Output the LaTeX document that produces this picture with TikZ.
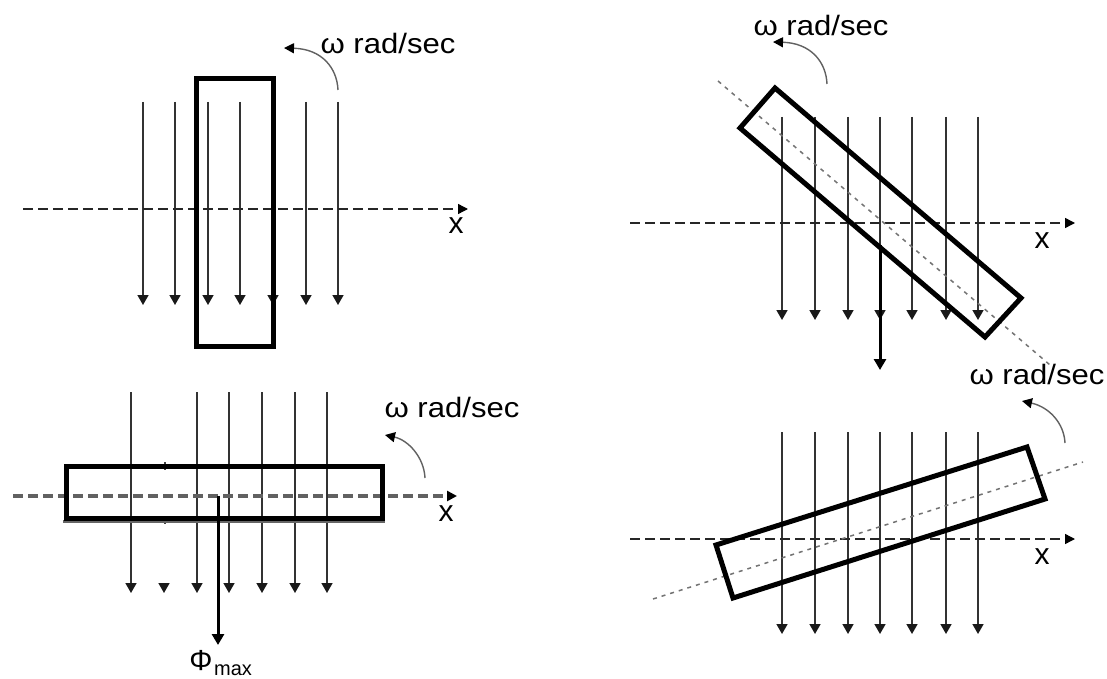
\documentclass[tikz,border=0pt]{standalone}
\usepackage{fontspec}
\setmainfont{Liberation Sans}
\usetikzlibrary{arrows.meta}
\newcommand{\omegalabel}{\scalebox{1.11}[1]{ω rad/sec}}
\tikzset{
  flux/.style={draw=black!80,line width=1.6pt,-{Triangle[length=10pt,width=11pt,color=black!90]}},
  fluxstub/.style={draw=black!75,line width=1.4pt},
  fluxmax/.style={draw=black,line width=3pt,-{Triangle[length=11pt,width=12pt,color=black]}},
  axisline/.style={draw=black!85,line width=1.4pt,dash pattern=on 10pt off 5pt,-{Triangle[length=10pt,width=10pt,color=black]}},
  axisthick/.style={draw=black!62,line width=3.2pt,dash pattern=on 10pt off 5pt,-{Triangle[length=10pt,width=10pt,color=black]}},
  coil/.style={draw=black,line width=5pt,line join=miter},
  coilshadow/.style={draw=black!60,line width=3pt},
  normalline/.style={draw=black!55,line width=1.5pt,dash pattern=on 4pt off 5pt},
  spin/.style={draw=black!62,line width=1.4pt,-{Triangle[length=10pt,width=10pt,color=black]}},
  lbl/.style={inner sep=0pt,font=\fontsize{28}{30}\selectfont},
  axlbl/.style={inner sep=0pt,font=\fontsize{30}{30}\selectfont}
}
\begin{document}
\begin{tikzpicture}[x=1pt,y=-1pt]
\useasboundingbox (0,0) rectangle (1107,679);
\fill[white] (0,0) rectangle (1107,679);
% ---- panel A
\foreach \n/\px in {1/143,2/175,3/208,4/240,5/273,6/306,7/338}{
  \coordinate (At\n) at (\px,102); \coordinate (Ab\n) at (\px,305);
  \draw[flux] (At\n) -- (Ab\n);
}
\coordinate (Aax0) at (23,209); \coordinate (Aax1) at (468,209);
\draw[axisline] (Aax0) -- (Aax1);
\draw[coil] (196,79) rectangle (273,346);
\node[axlbl] (Ax) at (456,226) {x};
\node[lbl] (Aw) at (388,43) {\omegalabel};
\coordinate (As0) at (338,90); \coordinate (As1) at (284,48);
\draw[spin] (As0) .. controls (337,68) and (322,49) .. (As1);
% ---- panel B
\foreach \n/\px in {1/131,3/197,4/229,5/262,6/295,7/327}{
  \coordinate (Bt\n) at (\px,392); \coordinate (Bb\n) at (\px,593);
  \draw[flux] (Bt\n) -- (Bb\n);
}
\coordinate (Bt2) at (165,462); \coordinate (Bu2) at (165,470);
\coordinate (Bs2) at (165,516); \coordinate (Bv2) at (165,524);
\coordinate (Bh0) at (164,583); \coordinate (Bh2) at (164,593);
\draw[fluxstub] (Bt2) -- (Bu2);
\draw[fluxstub] (Bs2) -- (Bv2);
\draw[flux] (Bh0) -- (Bh2);
\coordinate (Bax0) at (13,496); \coordinate (Bax1) at (457,496);
\draw[axisthick] (Bax0) -- (Bax1);
\coordinate (Bsh0) at (63,521.5); \coordinate (Bsh1) at (385,521.5);
\draw[coilshadow] (Bsh0) -- (Bsh1);
\draw[coil] (66,466.5) rectangle (382,518);
\coordinate (Bm0) at (218,496); \coordinate (Bm1) at (218,645);
\draw[fluxmax] (Bm0) -- (Bm1);
\node[axlbl] (Bx) at (446,514) {x};
\node[lbl] (Bw) at (452,407) {\omegalabel};
\node[inner sep=0pt,font=\fontsize{29}{30}\selectfont] (Bp) at (201,661) {Φ};
\node[inner sep=0pt,anchor=base west,font=\fontsize{20}{20}\selectfont] (Bmax) at (214,675) {max};
\coordinate (Bs0) at (425,478); \coordinate (Bs1) at (385,435);
\draw[spin] (Bs0) .. controls (424,457) and (408,440) .. (Bs1);
% ---- panel C
\foreach \n/\px in {1/782,2/815,3/848,4/880,5/912,6/946,7/978}{
  \coordinate (Ct\n) at (\px,117); \coordinate (Cb\n) at (\px,320);
  \draw[flux] (Ct\n) -- (Cb\n);
}
\coordinate (Cm0) at (880,245); \coordinate (Cm1) at (880,370);
\draw[fluxmax] (Cm0) -- (Cm1);
\coordinate (Cax0) at (630,223); \coordinate (Cax1) at (1075,223);
\draw[axisline] (Cax0) -- (Cax1);
\coordinate (Cn0) at (718,81); \coordinate (Cn1) at (1050,365);
\draw[normalline] (Cn0) -- (Cn1);
\draw[coil] (775,88) -- (740,128) -- (985,337) -- (1021,298) -- cycle;
\node[axlbl] (Cx) at (1042,241) {x};
\node[lbl] (Cw) at (821,25) {\omegalabel};
\coordinate (Cs0) at (827,84); \coordinate (Cs1) at (773,42);
\draw[spin] (Cs0) .. controls (826,61) and (810,43) .. (Cs1);
% ---- panel D
\foreach \n/\px in {1/782,2/815,3/848,4/880,5/912,6/946,7/978}{
  \coordinate (Dt\n) at (\px,432); \coordinate (Db\n) at (\px,634);
  \draw[flux] (Dt\n) -- (Db\n);
}
\coordinate (Dax0) at (630,539); \coordinate (Dax1) at (1075,539);
\draw[axisline] (Dax0) -- (Dax1);
\coordinate (Dn0) at (653,599); \coordinate (Dn1) at (1083,462);
\draw[normalline] (Dn0) -- (Dn1);
\draw[coil] (716,545) -- (733,598) -- (1045,499) -- (1027,447) -- cycle;
\node[axlbl] (Dx) at (1042,557) {x};
\node[lbl] (Dw) at (1037,374) {\omegalabel};
\coordinate (Ds0) at (1065,443); \coordinate (Ds1) at (1022,401);
\draw[spin] (Ds0) .. controls (1064,423) and (1049,407) .. (Ds1);
\end{tikzpicture}
\end{document}
